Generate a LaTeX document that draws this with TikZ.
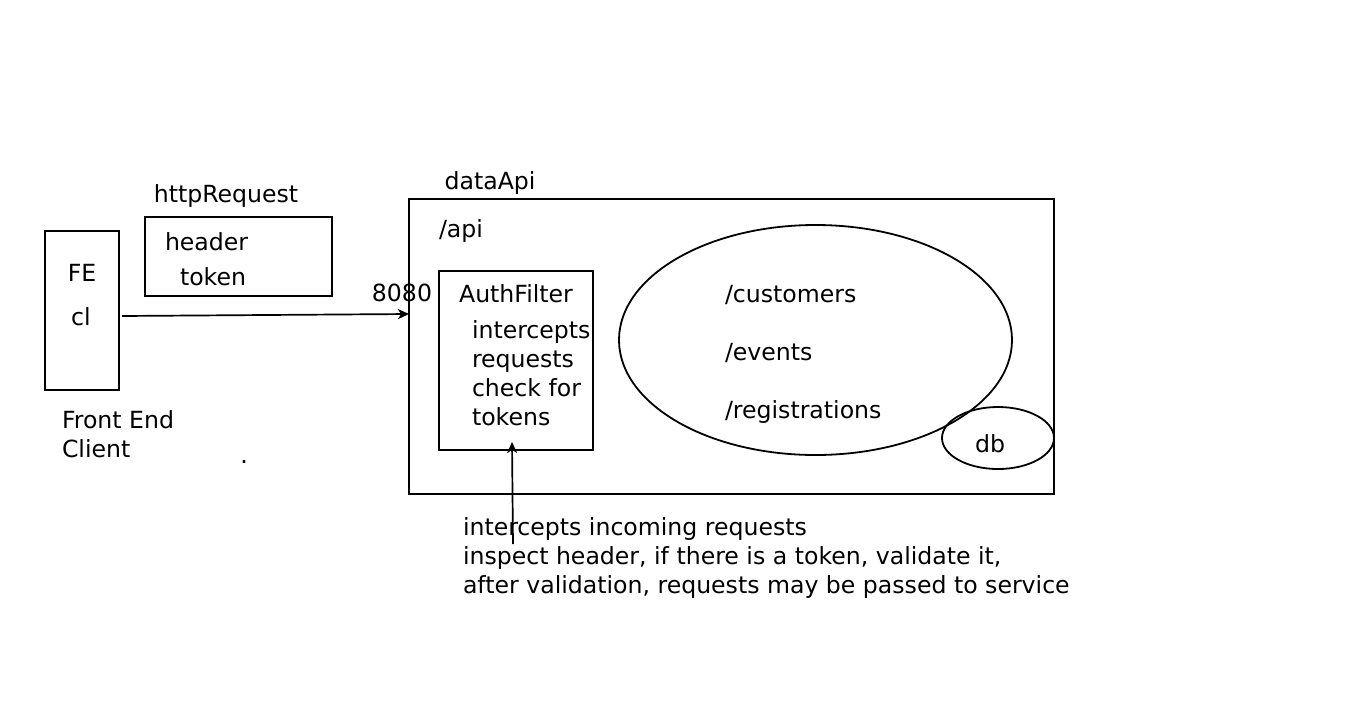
\documentclass[tikz,border=0pt]{standalone}
\usepackage{fontspec}
\setmainfont{DejaVu Sans}
\usetikzlibrary{shapes.geometric,arrows.meta}
\begin{document}
\begin{tikzpicture}[x=1pt,y=-1pt,
  box/.style={draw,line width=1.8pt,rectangle,inner sep=0pt,outer sep=0pt},
  oval/.style={draw,line width=1.8pt,ellipse,inner sep=0pt,outer sep=0pt},
  txt/.style={inner sep=0pt,outer sep=0pt,font=\fontsize{23.6}{29}\selectfont},
  arr/.style={line width=1.7pt,-{Stealth[length=11pt,width=10pt,inset=3pt]}}]
\useasboundingbox (0,0) rectangle (1366,705);
% boxes
\node[box,minimum width=74pt,minimum height=159pt] (fe) at (82,310.5) {};
\node[box,minimum width=187pt,minimum height=79pt] (req) at (238.5,256.5) {};
\node[box,minimum width=645pt,minimum height=295pt] (api) at (731.5,346.5) {};
\node[box,minimum width=154pt,minimum height=179pt] (auth) at (516,360.5) {};
\node[oval,minimum width=393pt,minimum height=230pt] (svc) at (815.5,340) {};
\node[oval,minimum width=112pt,minimum height=62pt] (db) at (998,438) {};
% texts
\node[txt,anchor=base] (tfe) at (82,281.5) {FE};
\node[txt,anchor=base] (tcl) at (81,325) {cl};
\node[txt,anchor=base west] (tfront) at (62,428) {Front End};
\node[txt,anchor=base west] (tclient) at (62,457) {Client};
\node[txt,anchor=base] (tdot) at (244,463) {.};
\node[txt,anchor=base] (thttp) at (226,202) {httpRequest};
\node[txt,anchor=base west] (thead) at (165,250) {header};
\node[txt,anchor=base west] (ttok) at (180,285) {token};
\node[txt,anchor=base] (tport) at (402,301) {8080};
\node[txt,anchor=base] (tdata) at (490,189) {dataApi};
\node[txt,anchor=base west] (tapi) at (439,237) {/api};
\node[txt,anchor=base] (tauth) at (516,302) {AuthFilter};
\node[txt,anchor=base west] (ta1) at (472,338) {intercepts};
\node[txt,anchor=base west] (ta2) at (472,367) {requests};
\node[txt,anchor=base west] (ta3) at (472,396) {check for};
\node[txt,anchor=base west] (ta4) at (472,425) {tokens};
\node[txt,anchor=base west] (tcus) at (725,302) {/customers};
\node[txt,anchor=base west] (tev) at (725,360) {/events};
\node[txt,anchor=base west] (treg) at (725,418) {/registrations};
\node[txt,anchor=base] (tdb) at (990,452) {db};
\node[txt,anchor=base west] (tb1) at (463,535) {intercepts incoming requests};
\node[txt,anchor=base west] (tb2) at (463,564) {inspect header, if there is a token, validate it,};
\node[txt,anchor=base west] (tb3) at (463,593) {after validation, requests may be passed to service};
% connectors
\coordinate (c2) at (513,544);
\draw[arr] ([shift={(3,5.5)}]fe.east) -- ([shift={(0,-32.5)}]api.west);
\draw[arr] (c2) -- ([shift={(-4,-8)}]auth.south);
\end{tikzpicture}
\end{document}
